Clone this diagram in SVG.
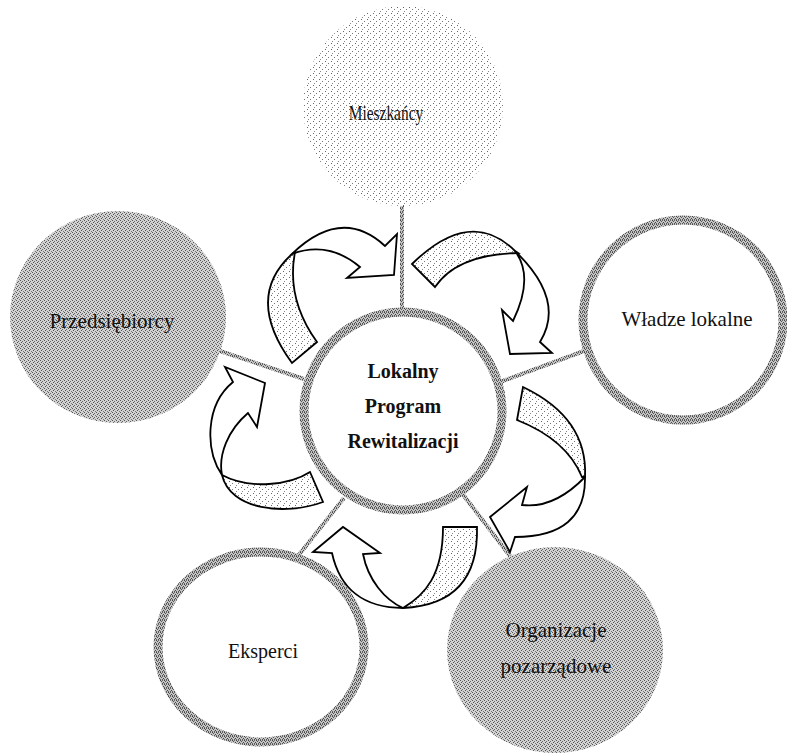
<svg xmlns="http://www.w3.org/2000/svg" width="787" height="754" viewBox="0 0 787 754">
<defs>
<pattern id="sparse" width="6" height="6" patternUnits="userSpaceOnUse">
<rect width="6" height="6" fill="#fff"/>
<rect x="1" y="1" width="1" height="1" fill="#666"/>
<rect x="4" y="3" width="1" height="1" fill="#777"/>
<rect x="2" y="5" width="1" height="1" fill="#888"/>
</pattern>
<pattern id="dense" width="4" height="4" patternUnits="userSpaceOnUse">
<rect width="4" height="4" fill="#d2d2d2"/>
<rect x="0" y="0" width="1" height="1" fill="#555"/>
<rect x="2" y="1" width="1" height="1" fill="#666"/>
<rect x="1" y="2" width="1" height="1" fill="#555"/>
<rect x="3" y="3" width="1" height="1" fill="#777"/>
</pattern>
<pattern id="ring" width="4" height="4" patternUnits="userSpaceOnUse">
<rect width="4" height="4" fill="#c4c4c4"/>
<rect x="0" y="0" width="1" height="1" fill="#444"/>
<rect x="2" y="0" width="1" height="1" fill="#666"/>
<rect x="1" y="1" width="1" height="1" fill="#555"/>
<rect x="3" y="2" width="1" height="1" fill="#444"/>
<rect x="0" y="3" width="1" height="1" fill="#666"/>
<rect x="2" y="3" width="1" height="1" fill="#555"/>
</pattern>
<style>
.lbl{font-family:"Liberation Serif","Times New Roman",serif;font-size:21px;fill:#111;text-anchor:middle}
.ctr{font-family:"Liberation Serif","Times New Roman",serif;font-size:20px;font-weight:bold;fill:#111;text-anchor:middle}
.ringc{fill:#fff;stroke:url(#ring);stroke-width:9}
.conn{stroke:url(#ring);stroke-width:4;fill:none}
.arw{stroke:#000;stroke-width:1.8;stroke-linejoin:miter}
.front{fill:#fff}
.back{fill:url(#sparse)}
</style>
</defs>
<rect width="787" height="754" fill="#fff"/>

<g id="connectors">
<line class="conn" x1="402" y1="200" x2="402" y2="310"/>
<line class="conn" x1="220" y1="351" x2="304" y2="379"/>
<line class="conn" x1="584" y1="351" x2="500" y2="382"/>
<line class="conn" x1="298" y1="556" x2="344" y2="498"/>
<line class="conn" x1="510" y1="556" x2="461" y2="492"/>
</g>

<g id="node-mieszkancy">
<circle cx="403" cy="106" r="100" fill="url(#sparse)"/>
<text class="lbl" transform="translate(386,120) scale(0.7,1)" x="0" y="0" style="font-size:22px">Mieszkańcy</text>
</g>

<g id="node-przedsiebiorcy">
<ellipse cx="118" cy="317" rx="108" ry="106" fill="url(#dense)"/>
<text class="lbl" x="112" y="328">Przedsiębiorcy</text>
</g>

<g id="node-wladze">
<circle class="ringc" cx="683" cy="320" r="100"/>
<text class="lbl" x="687" y="326">Władze lokalne</text>
</g>

<g id="node-eksperci">
<ellipse class="ringc" cx="261" cy="647" rx="103" ry="95"/>
<text class="lbl" x="263" y="658" style="font-size:20px">Eksperci</text>
</g>

<g id="node-organizacje">
<ellipse cx="555" cy="650" rx="108" ry="103" fill="url(#dense)"/>
<text class="lbl" x="556" y="637">Organizacje</text>
<text class="lbl" x="556" y="673">pozarządowe</text>
</g>

<g id="node-lpr">
<circle class="ringc" cx="403" cy="411" r="99"/>
<text class="ctr" x="403" y="378">Lokalny</text>
<text class="ctr" x="403" y="413">Program</text>
<text class="ctr" x="403" y="448">Rewitalizacji</text>
</g>

<g id="cycle-arrows">
<path class="arw back" d="M292,363 Q244,297.5 292,254 L295,252 Q286,299 317,342 Z"/>
<path class="arw front" d="M292,254 Q341.5,206 385,246 L397,234 L394,275 L347,278 L360,267 Q328.5,240.5 292,254 Z"/>

<path class="arw back" d="M412,264 Q470.5,206.5 515,251 L518,253 Q457.5,254 435,287 Z"/>
<path class="arw front" d="M515,251 Q566,300 540,342 L552,353 L510,354 L502,310 L513,321 Q534.5,277 515,251 Z"/>

<path class="arw back" d="M523,387 Q588,418 585,477 L582,477 Q566.5,439.5 517,420 Z"/>
<path class="arw front" d="M585,477 Q586,537 515,537 L510,552 L490,517 L527,487 L522,505 Q554,509 585,477 Z"/>

<path class="arw back" d="M443,527 L477,527 C478,565 465,605 403,608 C425,595 443,575 443,527 Z"/>
<path class="arw front" d="M403,608 C365,608 340,590 332,553 L313,552 L343,527 L380,553 L363,554 C368,580 385,600 403,608 Z"/>

<path class="arw back" d="M222,475 C230,510 285,516 323,502 L310,472 C290,485 250,490 222,475 Z"/>
<path class="arw front" d="M222,475 C205,450 205,405 233,382 L225,367 L265,383 L257,427 L248,413 C228,430 218,455 222,475 Z"/>
</g>
</svg>
